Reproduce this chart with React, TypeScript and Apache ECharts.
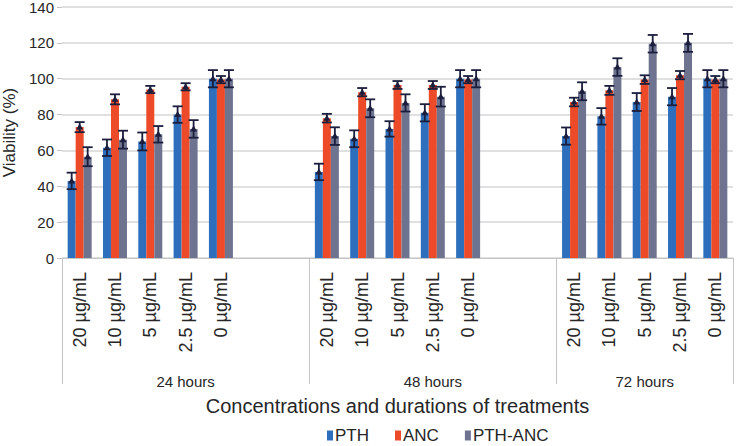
import React, { useEffect, useRef } from 'react';
import * as echarts from 'echarts';

const groups = ['24 hours', '48 hours', '72 hours'];
const concentrations = ['20 µg/mL', '10 µg/mL', '5 µg/mL', '2.5 µg/mL', '0 µg/mL'];
const seriesNames = ['PTH', 'ANC', 'PTH-ANC'];
// values ordered: 24 h (5 conc.), 48 h (5 conc.), 72 h (5 conc.)
const pthMean = [43, 61.5, 65, 80, 100, 48, 66.5, 72, 81, 100, 68, 79, 87, 90, 100];
const pthErr = [4.6, 4.6, 5, 4.6, 4.8, 4.6, 4.7, 4.3, 4.8, 4.8, 4.8, 4.6, 5, 4.8, 4.8];
const ancMean = [73, 88.5, 94, 95.5, 99.5, 78, 92.5, 96.5, 96.5, 99.5, 87, 93.5, 99.5, 102, 99.5];
const ancErr = [2.8, 2.8, 2, 2, 2, 2.4, 2.3, 2.2, 2.2, 2, 2.4, 2.5, 2.4, 2.3, 2];
const comboMean = [56.5, 66, 69, 72, 100, 68, 83.5, 86.5, 90, 100, 93, 106.5, 119.5, 120, 100];
const comboErr = [5.3, 5, 4.6, 4.9, 4.8, 4.9, 5, 4.8, 5.5, 4.8, 5, 4.9, 4.9, 5, 4.8];
const yMin = 0;
const yMax = 140;
const yStep = 20;
const GAP_SLOTS = 2;

const COLORS = ['#2E6FBD', '#EC4A28', '#6E7490'];
const ERR_COLOR = '#1B1E3C';
const BAR_W = 8;
const CAP_W = 10;
const FONT = '"Liberation Sans", Arial, sans-serif';
const TEXT = '#262626';

export default function App() {
  const ref = useRef<HTMLDivElement>(null);

  useEffect(() => {
    document.body.style.margin = '0';
    if (!ref.current) return;
    const chart = echarts.init(ref.current, null, { renderer: 'svg' });

    const slotKeys: string[] = [];
    const groupStarts: number[] = [];
    const groupCenters: number[] = [];
    groups.forEach((g, gi) => {
      const start = slotKeys.length;
      groupStarts.push(start);
      concentrations.forEach((c) => slotKeys.push(`${g}|${c}`));
      if (gi < groups.length - 1) {
        for (let k = 0; k < GAP_SLOTS; k++) slotKeys.push(`${g}|gap${k}`);
      }
      const size = slotKeys.length - start;
      groupCenters.push(start + (size - 1) / 2);
    });
    const slotOf = (i: number) => {
      const gi = Math.floor(i / concentrations.length);
      const ci = i % concentrations.length;
      return gi * (concentrations.length + GAP_SLOTS) + ci;
    };

    const means = [pthMean, ancMean, comboMean];
    const errs = [pthErr, ancErr, comboErr];

    const barSeries = seriesNames.map((name, k) => {
      const data: (number | null)[] = slotKeys.map(() => null);
      means[k].forEach((v, i) => {
        data[slotOf(i)] = v;
      });
      return {
        name,
        type: 'bar',
        xAxisIndex: 0,
        yAxisIndex: 0,
        barWidth: BAR_W,
        barGap: '0%',
        itemStyle: { color: COLORS[k] },
        data,
      };
    });

    const errData: number[][] = [];
    seriesNames.forEach((_, k) => {
      means[k].forEach((v, i) => {
        errData.push([slotOf(i), v, errs[k][i], k]);
      });
    });

    const option: any = {
      animation: false,
      textStyle: { fontFamily: FONT },
      grid: {
        left: 62,
        right: 4,
        top: 7,
        bottom: 188,
        containLabel: false,
        outerBoundsMode: 'none',
      },
      legend: {
        data: seriesNames,
        left: 322,
        top: 422,
        icon: 'rect',
        itemWidth: 6,
        itemHeight: 10,
        itemGap: 26,
        textStyle: { fontSize: 17, color: TEXT, fontFamily: FONT, padding: [0, 0, 0, -3] },
      },
      xAxis: [
        {
          type: 'category',
          position: 'bottom',
          data: slotKeys,
          axisLine: { show: true, lineStyle: { color: '#C4C4C4', width: 1 } },
          axisTick: { show: false },
          axisLabel: {
            interval: 0,
            rotate: 90,
            margin: 14,
            fontSize: 18,
            color: TEXT,
            fontFamily: FONT,
            formatter: (v: string) => (v.includes('|gap') ? '' : v.split('|')[1]),
          },
        },
        {
          type: 'category',
          position: 'bottom',
          data: slotKeys,
          axisLine: { show: false },
          axisTick: {
            show: true,
            length: 126,
            interval: (idx: number) => groupStarts.includes(idx),
            lineStyle: { color: '#C4C4C4', width: 1 },
          },
          axisLabel: {
            interval: (idx: number) => groupCenters.includes(idx),
            margin: 116,
            fontSize: 15,
            color: TEXT,
            fontFamily: FONT,
            formatter: (v: string) => v.split('|')[0],
          },
          name: 'Concentrations and durations of treatments',
          nameLocation: 'middle',
          nameGap: 138,
          nameTextStyle: { fontSize: 20, color: TEXT, fontFamily: FONT },
        },
      ],
      yAxis: {
        type: 'value',
        min: yMin,
        max: yMax,
        interval: yStep,
        axisLine: { show: false },
        axisTick: { show: true, length: 5, lineStyle: { color: '#C4C4C4' } },
        axisLabel: { fontSize: 15, color: TEXT, margin: 8, fontFamily: FONT },
        splitLine: { lineStyle: { color: '#D6D6D6', width: 1.5 } },
        name: 'Viability (%)',
        nameLocation: 'middle',
        nameGap: 44,
        nameTextStyle: { fontSize: 17, color: TEXT, fontFamily: FONT },
      },
      series: [
        ...barSeries,
        {
          type: 'custom',
          xAxisIndex: 0,
          yAxisIndex: 0,
          silent: true,
          z: 5,
          encode: { x: 0, y: 1 },
          data: errData,
          renderItem: (_params: any, api: any) => {
            const x = api.value(0);
            const m = api.value(1);
            const e = api.value(2);
            const k = api.value(3);
            const c = api.coord([x, m]);
            const t = api.coord([x, m + e]);
            const b = api.coord([x, m - e]);
            const cx = c[0] + (k - 1) * BAR_W;
            const hw = CAP_W / 2;
            const style = { stroke: ERR_COLOR, lineWidth: 1.8 };
            return {
              type: 'group',
              children: [
                { type: 'line', shape: { x1: cx, y1: t[1], x2: cx, y2: b[1] }, style },
                { type: 'line', shape: { x1: cx - hw, y1: t[1], x2: cx + hw, y2: t[1] }, style },
                { type: 'line', shape: { x1: cx - hw, y1: b[1], x2: cx + hw, y2: b[1] }, style },
                {
                  type: 'polygon',
                  shape: { points: [[cx - 3.5, c[1] + 2.5], [cx + 3.5, c[1] + 2.5], [cx, c[1] - 3.5]] },
                  style: { fill: ERR_COLOR },
                },
              ],
            };
          },
        },
      ],
    };

    chart.setOption(option);
    return () => chart.dispose();
  }, []);

  return <div ref={ref} style={{ width: 737, height: 446 }} />;
}
